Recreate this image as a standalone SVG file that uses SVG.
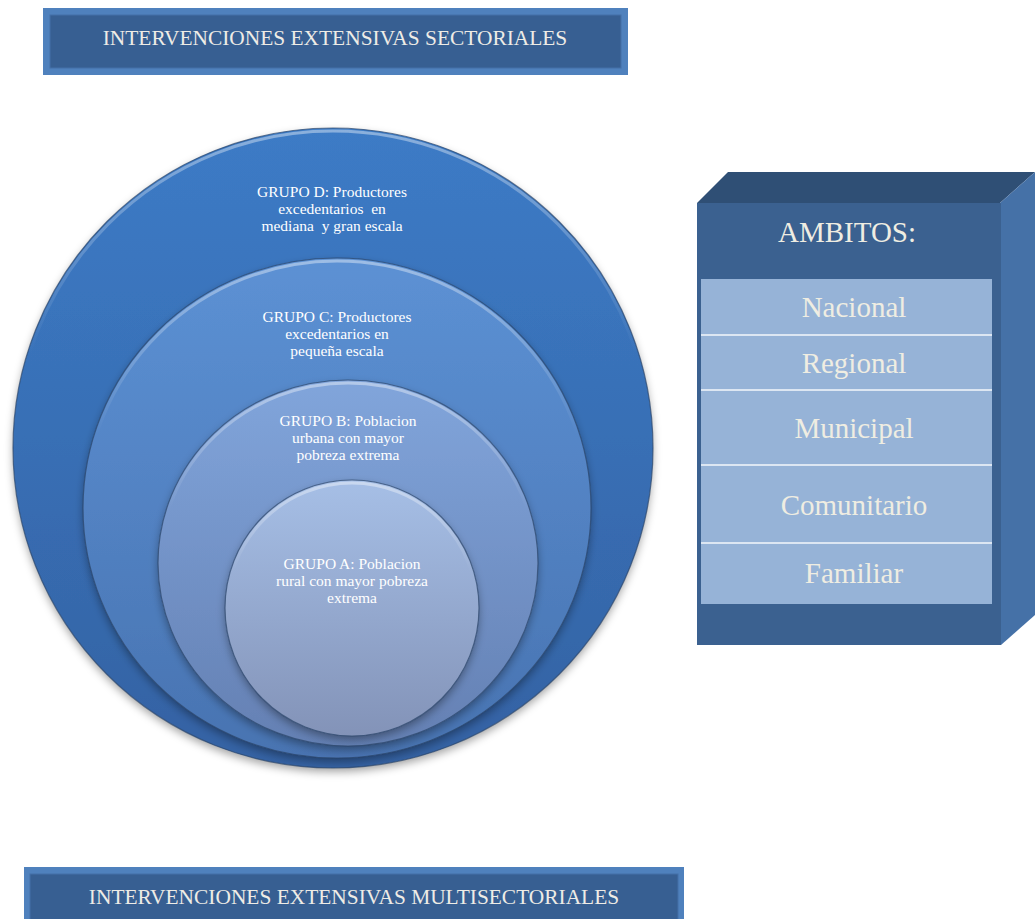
<svg xmlns="http://www.w3.org/2000/svg" width="1035" height="919" viewBox="0 0 1035 919">
<style>
.ban{font-family:"Liberation Serif","Times New Roman",serif;font-size:21.4px;fill:#EEECE6;text-anchor:middle}
.grp{font-family:"Liberation Serif","Times New Roman",serif;font-size:15.5px;fill:#FFFFFF;text-anchor:middle}
.amb{font-family:"Liberation Serif","Times New Roman",serif;font-size:29px;fill:#EFEDE2;text-anchor:middle}
.edge{fill:none;stroke:#2B4468;stroke-width:1.2;stroke-opacity:0.7}
.hl{fill:none;stroke:url(#hlg);stroke-width:3}
.sep{stroke:#DCE6F2;stroke-width:2}
</style>
<defs>
<linearGradient id="gD" x1="0" y1="0" x2="0" y2="1"><stop offset="0" stop-color="#3C7BC6"/><stop offset="1" stop-color="#3462A3"/></linearGradient>
<linearGradient id="gC" x1="0" y1="0" x2="0" y2="1"><stop offset="0" stop-color="#5C91D4"/><stop offset="1" stop-color="#4873B1"/></linearGradient>
<linearGradient id="gB" x1="0" y1="0" x2="0" y2="1"><stop offset="0" stop-color="#81A5DB"/><stop offset="1" stop-color="#6480B3"/></linearGradient>
<linearGradient id="gA" x1="0" y1="0" x2="0" y2="1"><stop offset="0" stop-color="#A6BFE6"/><stop offset="1" stop-color="#8393B8"/></linearGradient>
<linearGradient id="hlg" x1="0" y1="0" x2="0" y2="1"><stop offset="0" stop-color="#FFFFFF" stop-opacity="0.4"/><stop offset="0.35" stop-color="#FFFFFF" stop-opacity="0"/><stop offset="1" stop-color="#FFFFFF" stop-opacity="0"/></linearGradient>
<filter id="sh" x="-10%" y="-10%" width="120%" height="125%"><feDropShadow dx="0" dy="4" stdDeviation="4" flood-color="#000000" flood-opacity="0.35"/></filter>
</defs>
<g id="banner-top">
<rect x="43" y="8" width="585" height="67" fill="#4F81BD"/>
<rect x="50" y="15" width="571" height="53" fill="#375F92" stroke="#4470A8" stroke-width="1"/>
<text class="ban" x="335" y="45">INTERVENCIONES EXTENSIVAS SECTORIALES</text>
</g>
<g id="grupo-d">
<ellipse cx="333" cy="448" rx="320" ry="320" fill="url(#gD)" filter="url(#sh)"/>
<ellipse class="hl" cx="333" cy="449" rx="318" ry="318"/>
<ellipse class="edge" cx="333" cy="448" rx="320" ry="320"/>
<text class="grp" x="332" y="197">GRUPO D: Productores</text>
<text class="grp" x="332" y="214" xml:space="preserve">excedentarios  en</text>
<text class="grp" x="332" y="231" xml:space="preserve">mediana  y gran escala</text>
</g>
<g id="grupo-c">
<ellipse cx="337" cy="508" rx="254" ry="250" fill="url(#gC)" filter="url(#sh)"/>
<ellipse class="hl" cx="337" cy="509" rx="252" ry="248"/>
<ellipse class="edge" cx="337" cy="508" rx="254" ry="250"/>
<text class="grp" x="337" y="322">GRUPO C: Productores</text>
<text class="grp" x="337" y="339">excedentarios en</text>
<text class="grp" x="337" y="356">pequeña escala</text>
</g>
<g id="grupo-b">
<ellipse cx="348" cy="563" rx="190" ry="183" fill="url(#gB)" filter="url(#sh)"/>
<ellipse class="hl" cx="348" cy="564" rx="188" ry="181"/>
<ellipse class="edge" cx="348" cy="563" rx="190" ry="183"/>
<text class="grp" x="348" y="426">GRUPO B: Poblacion</text>
<text class="grp" x="348" y="443">urbana con mayor</text>
<text class="grp" x="348" y="460">pobreza extrema</text>
</g>
<g id="grupo-a">
<ellipse cx="352" cy="608" rx="127" ry="128" fill="url(#gA)" filter="url(#sh)"/>
<ellipse class="hl" cx="352" cy="609" rx="125" ry="126"/>
<ellipse class="edge" cx="352" cy="608" rx="127" ry="128"/>
<text class="grp" x="352" y="569">GRUPO A: Poblacion</text>
<text class="grp" x="352" y="586">rural con mayor pobreza</text>
<text class="grp" x="352" y="603">extrema</text>
</g>
<g id="ambitos">
<polygon points="697,203 728,172 1035,172 1000,203" fill="#2F4F75"/>
<polygon points="1000,203 1035,172 1035,615 1001,645" fill="#4571A7"/>
<rect x="697" y="203" width="304" height="442" fill="#3B6190"/>
<rect x="701" y="279" width="291" height="325" fill="#96B3D7"/>
<line class="sep" x1="701" y1="335" x2="992" y2="335"/>
<line class="sep" x1="701" y1="390" x2="992" y2="390"/>
<line class="sep" x1="701" y1="465" x2="992" y2="465"/>
<line class="sep" x1="701" y1="543" x2="992" y2="543"/>
<text class="amb" x="847" y="242">AMBITOS:</text>
<text class="amb" x="854" y="317">Nacional</text>
<text class="amb" x="854" y="373">Regional</text>
<text class="amb" x="854" y="438">Municipal</text>
<text class="amb" x="854" y="515">Comunitario</text>
<text class="amb" x="854" y="583">Familiar</text>
</g>
<g id="banner-bottom">
<rect x="24" y="867" width="660" height="60" fill="#4F81BD"/>
<rect x="30" y="874" width="648" height="50" fill="#375F92" stroke="#4470A8" stroke-width="1"/>
<text class="ban" x="354" y="904">INTERVENCIONES EXTENSIVAS MULTISECTORIALES</text>
</g>
<g id="connectors"/>
</svg>
